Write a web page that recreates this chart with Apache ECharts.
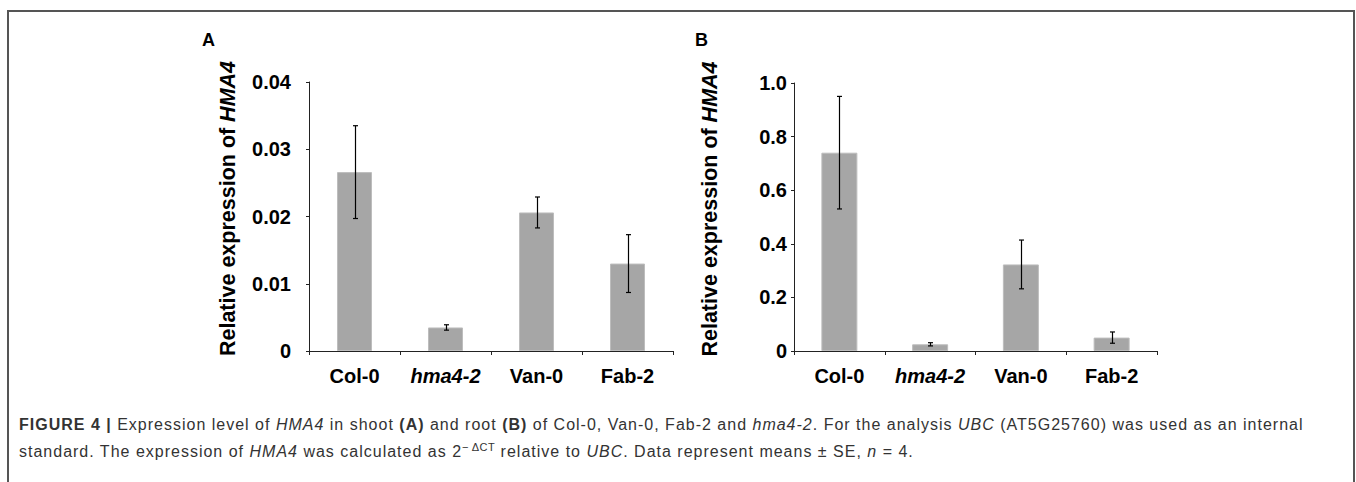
<!DOCTYPE html>
<html>
<head>
<meta charset="utf-8">
<script src="https://cdn.jsdelivr.net/npm/echarts@6/dist/echarts.min.js"></script>
<style>
	html,body{margin:0;padding:0;background:#fff;}
	#wrap{position:relative;width:1356px;height:482px;overflow:hidden;}
	#frame{position:absolute;left:7px;top:10px;width:1344px;height:520px;border:2px solid #555;}
	#chart{position:absolute;left:0;top:0;width:1356px;height:482px;}
	#caption{position:absolute;left:19px;top:411px;width:1330px;font-family:"Liberation Sans",Arial,sans-serif;font-size:16px;letter-spacing:1px;line-height:27px;color:#333;white-space:nowrap;}
	#caption sup{font-size:11px;line-height:0;letter-spacing:0.5px;}
</style>
</head>
<body>
<div id="wrap">
	<div id="frame"></div>
	<div id="chart"></div>
	<div id="caption">
		<b>FIGURE 4 |</b> Expression level of <i>HMA4</i> in shoot <b>(A)</b> and root <b>(B)</b> of Col-0, Van-0, Fab-2 and <i>hma4-2</i>. For the analysis <i>UBC</i> (AT5G25760) was used as an internal<br>
		standard. The expression of <i>HMA4</i> was calculated as 2<sup>&minus;&thinsp;&Delta;CT</sup> relative to <i>UBC</i>. Data represent means &plusmn; SE, <i>n</i> = 4.
	</div>
</div>
<script>
	var categories = ['Col-0', 'hma4-2', 'Van-0', 'Fab-2'];
	// shoot (A)
	var shootMean = [0.0266, 0.0035, 0.0206, 0.0130];
	var shootSE = [0.0069, 0.0004, 0.0023, 0.0043];
	var shootTicks = [0, 0.01, 0.02, 0.03, 0.04];
	// root (B)
	var rootMean = [0.740, 0.025, 0.323, 0.050];
	var rootSE = [0.210, 0.006, 0.091, 0.021];
	var rootTicks = [0, 0.2, 0.4, 0.6, 0.8, 1.0];

	var font = '"Liberation Sans", Arial, sans-serif';
	var barColor = '#a6a6a6';

	function errData(mean, se){
		var out = [];
		for(var i=0;i<mean.length;i++){
			out.push([i, mean[i]-se[i], mean[i]+se[i]]);
		}
		return out;
	}

	function renderErr(params, api){
		var lo = api.coord([api.value(0), api.value(1)]);
		var hi = api.coord([api.value(0), api.value(2)]);
		var x = Math.round(lo[0]) + 0.5;
		var w = 2.5;
		var style = {stroke:'#000', lineWidth:1.2};
		return {
			type:'group',
			children:[
				{type:'line', shape:{x1:x, y1:hi[1], x2:x, y2:lo[1]}, style:style},
				{type:'line', shape:{x1:x-w, y1:hi[1], x2:x+w, y2:hi[1]}, style:style},
				{type:'line', shape:{x1:x-w, y1:lo[1], x2:x+w, y2:lo[1]}, style:style}
			]
		};
	}

	function yAxis(idx, ticks, digits, margin, gap){
		return {
			type:'value',
			gridIndex:idx,
			min:ticks[0],
			max:ticks[ticks.length-1],
			interval:ticks[1]-ticks[0],
			splitLine:{show:false},
			axisLine:{show:true, lineStyle:{color:'#222', width:1}},
			axisTick:{show:true, length:3, lineStyle:{color:'#222'}},
			axisLabel:{
				margin:margin,
				color:'#000',
				fontFamily:font,
				fontWeight:'bold',
				fontSize:20,
				formatter:function(v){ return v === 0 ? '0' : v.toFixed(digits); }
			},
			name:'{n|Relative expression of }{i|HMA4}',
			nameLocation:'middle',
			nameGap:gap,
			nameRotate:90,
			nameTextStyle:{
				padding:[0, 0, 0, 16],
				rich:{
					n:{fontFamily:font, fontWeight:'bold', fontSize:21.5, color:'#000'},
					i:{fontFamily:font, fontWeight:'bold', fontStyle:'italic', fontSize:21.5, color:'#000'}
				}
			}
		};
	}

	function xAxis(idx){
		return {
			type:'category',
			gridIndex:idx,
			data:categories,
			axisLine:{lineStyle:{color:'#222', width:1}},
			axisTick:{show:true, length:4, lineStyle:{color:'#222'}},
			axisLabel:{
				margin:15,
				interval:0,
				formatter:function(v){ return v == 'hma4-2' ? '{i|' + v + '}' : '{n|' + v + '}'; },
				rich:{
					n:{fontFamily:font, fontWeight:'bold', fontSize:20, color:'#000'},
					i:{fontFamily:font, fontWeight:'bold', fontStyle:'italic', fontSize:20, color:'#000'}
				}
			}
		};
	}

	var chart = echarts.init(document.getElementById('chart'), null, {renderer:'svg'});
	chart.setOption({
		animation:false,
		grid:[
			{left:309, top:82, width:364, height:269},
			{left:794, top:83, width:363, height:268}
		],
		xAxis:[xAxis(0), xAxis(1)],
		yAxis:[yAxis(0, shootTicks, 2, 18, 70), yAxis(1, rootTicks, 1, 7, 73)],
		graphic:[
			{type:'text', left:202, top:31, style:{text:'A', fontFamily:font, fontWeight:'bold', fontSize:18, fill:'#000'}},
			{type:'text', left:695, top:31, style:{text:'B', fontFamily:font, fontWeight:'bold', fontSize:18, fill:'#000'}}
		],
		series:[
			{type:'bar', xAxisIndex:0, yAxisIndex:0, data:shootMean, barWidth:35,
				itemStyle:{color:barColor, borderColor:'#bdbdbd', borderWidth:1}},
			{type:'custom', xAxisIndex:0, yAxisIndex:0, data:errData(shootMean, shootSE), renderItem:renderErr, z:5},
			{type:'bar', xAxisIndex:1, yAxisIndex:1, data:rootMean, barWidth:36,
				itemStyle:{color:barColor, borderColor:'#bdbdbd', borderWidth:1}},
			{type:'custom', xAxisIndex:1, yAxisIndex:1, data:errData(rootMean, rootSE), renderItem:renderErr, z:5}
		]
	});
</script>
</body>
</html>
